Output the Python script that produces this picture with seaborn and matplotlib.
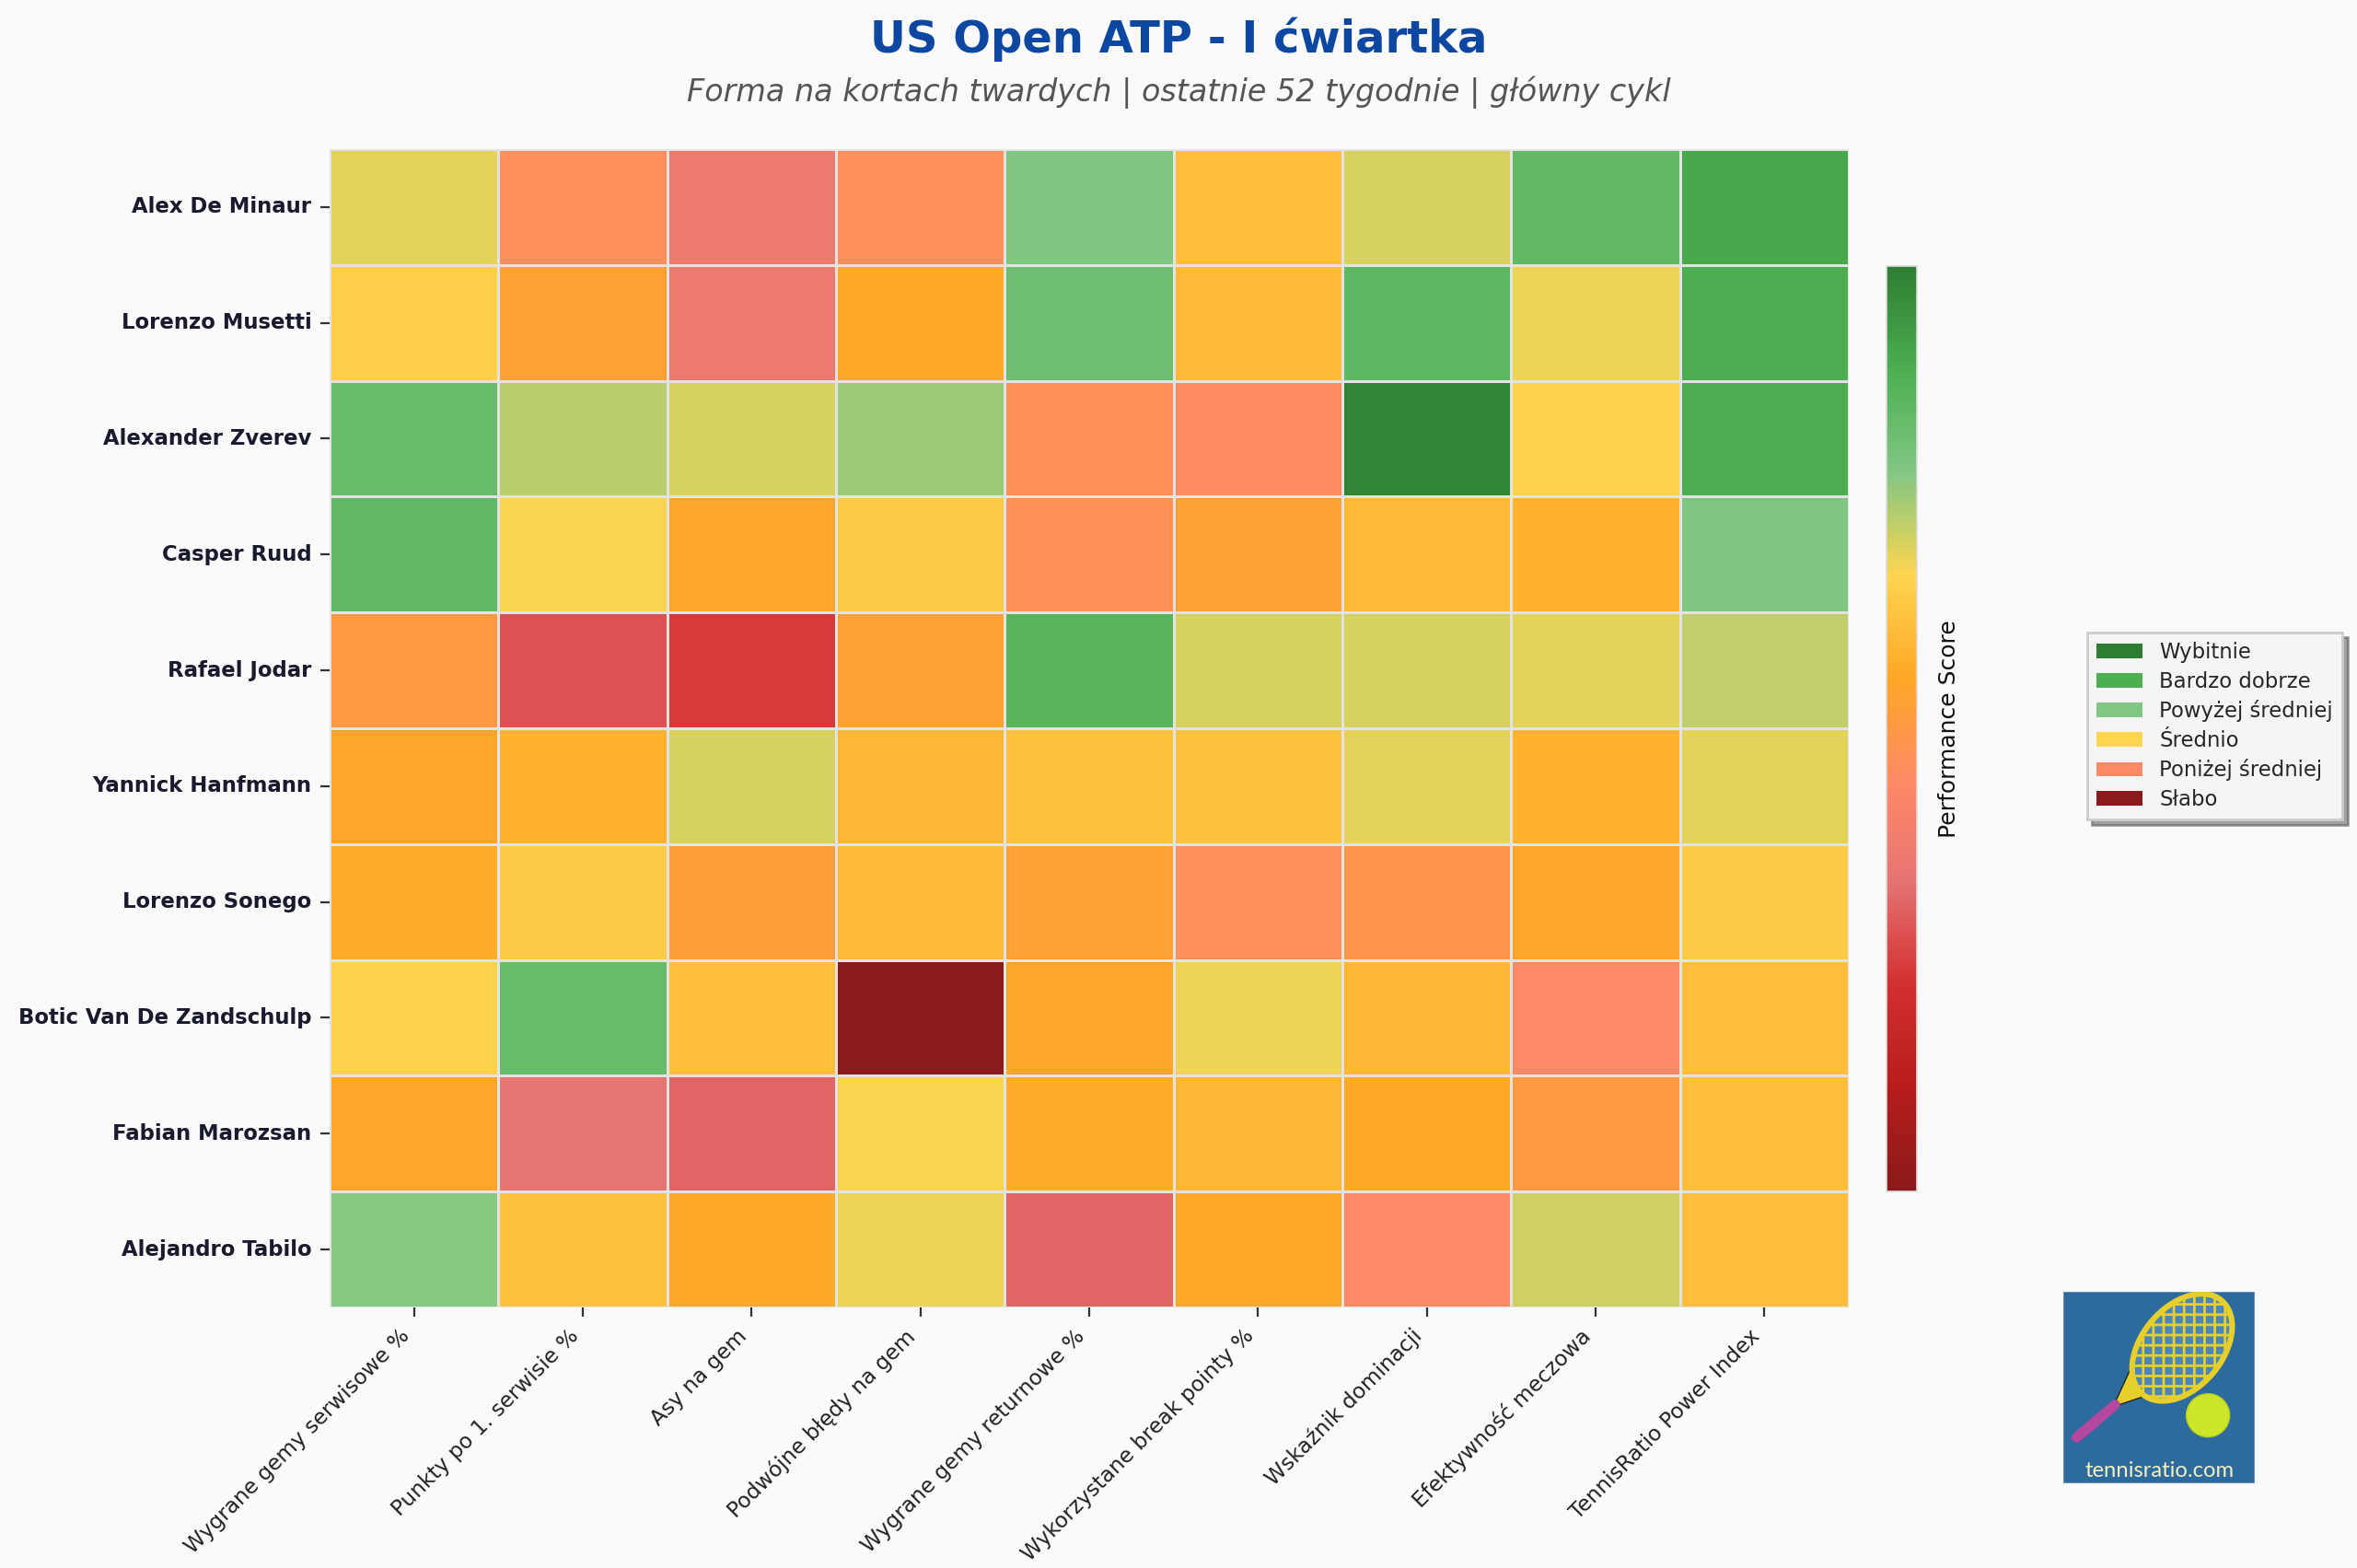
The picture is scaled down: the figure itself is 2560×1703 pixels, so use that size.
import numpy as np
import pandas as pd
import matplotlib
matplotlib.use('Agg')
import matplotlib.pyplot as plt
import seaborn as sns
from matplotlib.colors import LinearSegmentedColormap
import matplotlib.patches as mpatches

players = ['Alex De Minaur', 'Lorenzo Musetti', 'Alexander Zverev', 'Casper Ruud',
           'Rafael Jodar', 'Yannick Hanfmann', 'Lorenzo Sonego',
           'Botic Van De Zandschulp', 'Fabian Marozsan', 'Alejandro Tabilo']
metrics = ['Wygrane gemy serwisowe %', 'Punkty po 1. serwisie %', 'Asy na gem',
           'Podwójne błędy na gem', 'Wygrane gemy returnowe %',
           'Wykorzystane break pointy %', 'Wskaźnik dominacji',
           'Efektywność meczowa', 'TennisRatio Power Index']

de_minaur = [69, 46, 37, 46, 78, 61, 70, 84, 90]
musetti = [65, 53, 37, 56, 82, 60, 85, 68, 89]
zverev = [83, 73, 70, 75, 47, 45, 98, 66, 89]
ruud = [84, 67, 55, 64, 47, 53, 60, 58, 78]
jodar = [50, 28, 24, 53, 86, 70, 70, 69, 72]
hanfmann = [55, 58, 70, 59, 62, 62, 69, 58, 69]
sonego = [57, 64, 52, 60, 53, 46, 49, 55, 64]
van_de_zandschulp = [66, 83, 61, 0, 55, 68, 59, 44, 61]
marozsan = [55, 34, 31, 67, 57, 59, 56, 50, 61]
tabilo = [77, 62, 56, 68, 31, 56, 44, 71, 61]

scores = [de_minaur, musetti, zverev, ruud, jodar, hanfmann, sonego,
          van_de_zandschulp, marozsan, tabilo]

cmap_colors = ['#8B1A1A', '#B71C1C', '#D32F2F', '#E57373', '#FF8A65',
               '#FFA726', '#FFD54F', '#81C784', '#4CAF50', '#2E7D32']
legend_labels = ['Wybitnie', 'Bardzo dobrze', 'Powyżej średniej',
                 'Średnio', 'Poniżej średniej', 'Słabo']
legend_colors = ['#2E7D32', '#4CAF50', '#81C784', '#FFD54F', '#FF8A65', '#8B1A1A']

df = pd.DataFrame(scores, index=players, columns=metrics)
cmap = LinearSegmentedColormap.from_list('perf', cmap_colors)

sns.set_style('white')
plt.rcParams['font.family'] = ['DejaVu Sans']

fig = plt.figure(figsize=(12.8, 8.515), dpi=200, facecolor='#FAFAFA')
ax = fig.add_axes([0.1398, 0.1662, 0.6446, 0.7387])
cax = fig.add_axes([0.8002, 0.2402, 0.0132, 0.5903])
ax.set_facecolor('#FAFAFA')

sns.heatmap(df, ax=ax, cmap=cmap, vmin=0, vmax=100, linewidths=1,
            linecolor='#E3E3E3', cbar_ax=cax)

ax.set_xticklabels(metrics, rotation=45, ha='right', fontsize=8.4, color='#222222')
ax.set_yticklabels(players, rotation=0, fontsize=8.2, fontweight='bold', color='#1A1A2E')
ax.tick_params(axis='both', length=3.5, width=0.8, color='#333333', left=True, bottom=True)
ax.set_xlabel('')
ax.set_ylabel('')

cbar = ax.collections[0].colorbar
cbar.set_ticks([])
cbar.outline.set_edgecolor('#DDDDDD')
cbar.outline.set_linewidth(0.6)
cbar.set_label('Performance Score', fontsize=9, labelpad=8, color='#111111')

handles = [mpatches.Patch(facecolor=c, edgecolor='none', label=l)
           for c, l in zip(legend_colors, legend_labels)]
fig.legend(handles=handles, loc='center left', bbox_to_anchor=(0.8855, 0.537),
           fontsize=8.2, frameon=True, fancybox=False, shadow=True,
           facecolor='#F5F5F5', edgecolor='#CCCCCC', framealpha=1,
           handlelength=2.2, labelspacing=0.38, borderpad=0.45, borderaxespad=0)

fig.text(0.5, 0.9665, 'US Open ATP - I ćwiartka', ha='center', va='baseline',
         fontsize=17.3, fontweight='bold', color='#0D47A1')
fig.text(0.5, 0.9354, 'Forma na kortach twardych | ostatnie 52 tygodnie | główny cykl',
         ha='center', va='baseline', fontsize=12, style='italic', color='#555555')

# logo tennisratio
lax = fig.add_axes([0.8754, 0.054, 0.0813, 0.1221])
lax.set_xlim(0, 1)
lax.set_ylim(0, 1)
lax.axis('off')
lax.add_patch(mpatches.Rectangle((0, 0), 1, 1, facecolor='#2D6B9E', edgecolor='#6F9CC4', lw=0.6))
lax.plot([0.07, 0.27], [0.24, 0.41], color='#B4479E', lw=4, solid_capstyle='round')
lax.add_patch(mpatches.Polygon([[0.26, 0.40], [0.37, 0.64], [0.53, 0.49]], closed=True,
                               facecolor='#E6CF2B', edgecolor='#222222', lw=0.5))
lax.add_patch(mpatches.Ellipse((0.62, 0.71), 0.64, 0.42, angle=50, facecolor='#4A86B8',
                               edgecolor='#E6CF2B', lw=2.2, hatch='+++'))
lax.add_patch(mpatches.Circle((0.755, 0.355), 0.113, facecolor='#CDE52B', edgecolor='#B5CC20', lw=0.5))
lax.text(0.5, 0.065, 'tennisratio.com', ha='center', va='center', fontsize=8.6,
         color='#F3EFC0', family=['Lato', 'DejaVu Sans'])

fig.savefig('out.png', dpi=200, facecolor=fig.get_facecolor())
